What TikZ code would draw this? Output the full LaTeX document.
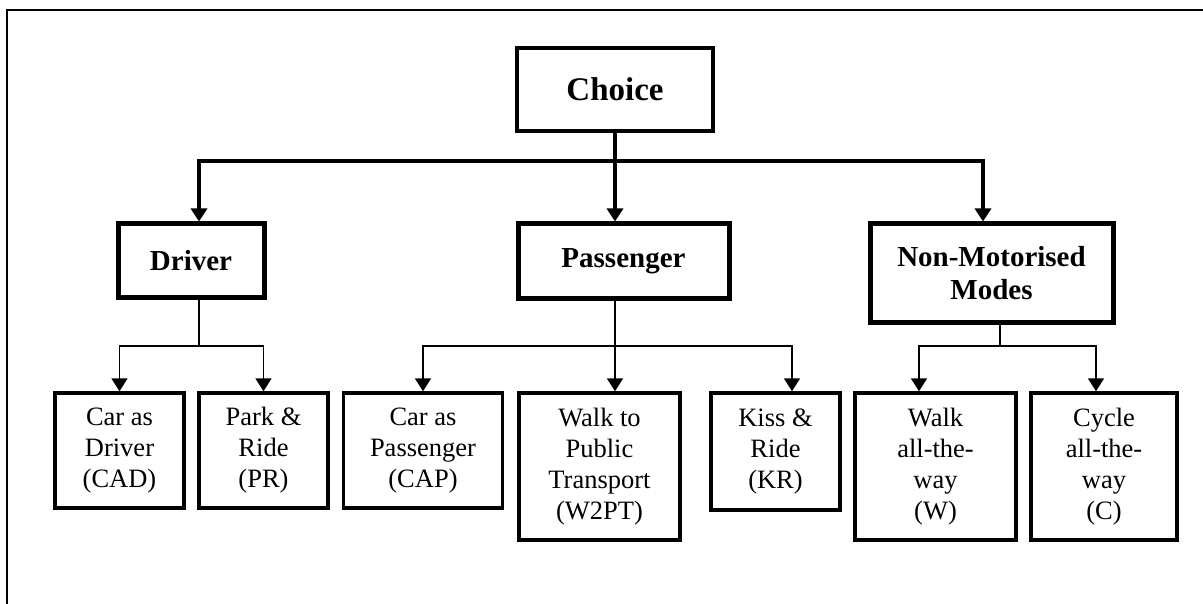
\documentclass[tikz,border=0pt]{standalone}
\usepackage{fontspec}
\setmainfont{Liberation Serif}
\usetikzlibrary{arrows.meta}

\begin{document}
\begin{tikzpicture}[x=1pt,y=-1pt,
  topbox/.style={draw,line width=5pt,align=center,inner sep=0pt,font=\fontsize{29}{33}\selectfont\bfseries},
  modebox/.style={draw,line width=3.4pt,align=center,inner sep=0pt,font=\fontsize{26.5}{31}\selectfont},
  bigline/.style={line width=3.3pt},
  thinline/.style={line width=1.8pt},
  >={Triangle[width=16pt,length=13pt]}]

\clip (0,0) rectangle (1203,604);
\draw[line width=2pt] (7,10) rectangle (1220,640);

\node[topbox,line width=4.5pt,minimum width=196pt,minimum height=83pt,font=\fontsize{33}{37}\selectfont\bfseries] (choice) at (615,89.5) {Choice};

\node[topbox,minimum width=146pt,minimum height=74pt] (driver) at (191,261) {Driver};
\node[topbox,minimum width=211pt,minimum height=75pt] (passenger) at (623.5,261.5) {Passenger};
\node[topbox,minimum width=243pt,minimum height=99pt] (nonmot) at (991.5,273.5) {Non-Motorised\\Modes};

\node[modebox,minimum width=129pt,minimum height=115pt] (cad) at (119.5,450.5) {Car as\\Driver\\(CAD)};
\node[modebox,minimum width=129pt,minimum height=115pt] (pr) at (263.5,450.5) {Park \&\\Ride\\(PR)};
\node[modebox,minimum width=159pt,minimum height=115pt] (cap) at (423,450.5) {Car as\\Passenger\\(CAP)};
\node[modebox,minimum width=161pt,minimum height=147pt] (wpt) at (599.5,466.5) {Walk to\\Public\\Transport\\(W2PT)};
\node[modebox,minimum width=129pt,minimum height=117pt] (kr) at (775.5,451.5) {Kiss \&\\Ride\\(KR)};
\node[modebox,minimum width=161pt,minimum height=147pt] (walk) at (935.5,466.5) {Walk\\all-the-\\way\\(W)};
\node[modebox,minimum width=146pt,minimum height=147pt] (cycle) at (1104,466.5) {Cycle\\all-the-\\way\\(C)};

\coordinate (toprow) at (615,161);
\coordinate (topleft) at (199,161);
\coordinate (topright) at (983,161);

\draw[bigline,->] (choice.south) -- (choice.south |- passenger.north);
\draw[bigline,->] (toprow) -- (topleft) -- (topleft |- driver.north);
\draw[bigline,->] (toprow) -- (topright) -- (topright |- nonmot.north);

\coordinate (drvjoin) at (199,346);
\draw[thinline] (drvjoin |- driver.south) -- (drvjoin);
\draw[thinline,->] (drvjoin) -- (cad.north |- drvjoin) -- (cad.north);
\draw[thinline,->] (drvjoin) -- (pr.north |- drvjoin) -- (pr.north);

\coordinate (pasjoin) at (615,346);
\coordinate (krjoin) at (792,346);
\draw[thinline,->] (pasjoin |- passenger.south) -- (pasjoin |- wpt.north);
\draw[thinline,->] (pasjoin) -- (cap.north |- pasjoin) -- (cap.north);
\draw[thinline,->] (pasjoin) -- (krjoin) -- (krjoin |- kr.north);

\coordinate (nmjoin) at (1000,346);
\coordinate (walkjoin) at (919,346);
\coordinate (cyclejoin) at (1096,346);
\draw[thinline] (nmjoin |- nonmot.south) -- (nmjoin);
\draw[thinline,->] (nmjoin) -- (walkjoin) -- (walkjoin |- walk.north);
\draw[thinline,->] (nmjoin) -- (cyclejoin) -- (cyclejoin |- cycle.north);

\end{tikzpicture}
\end{document}
